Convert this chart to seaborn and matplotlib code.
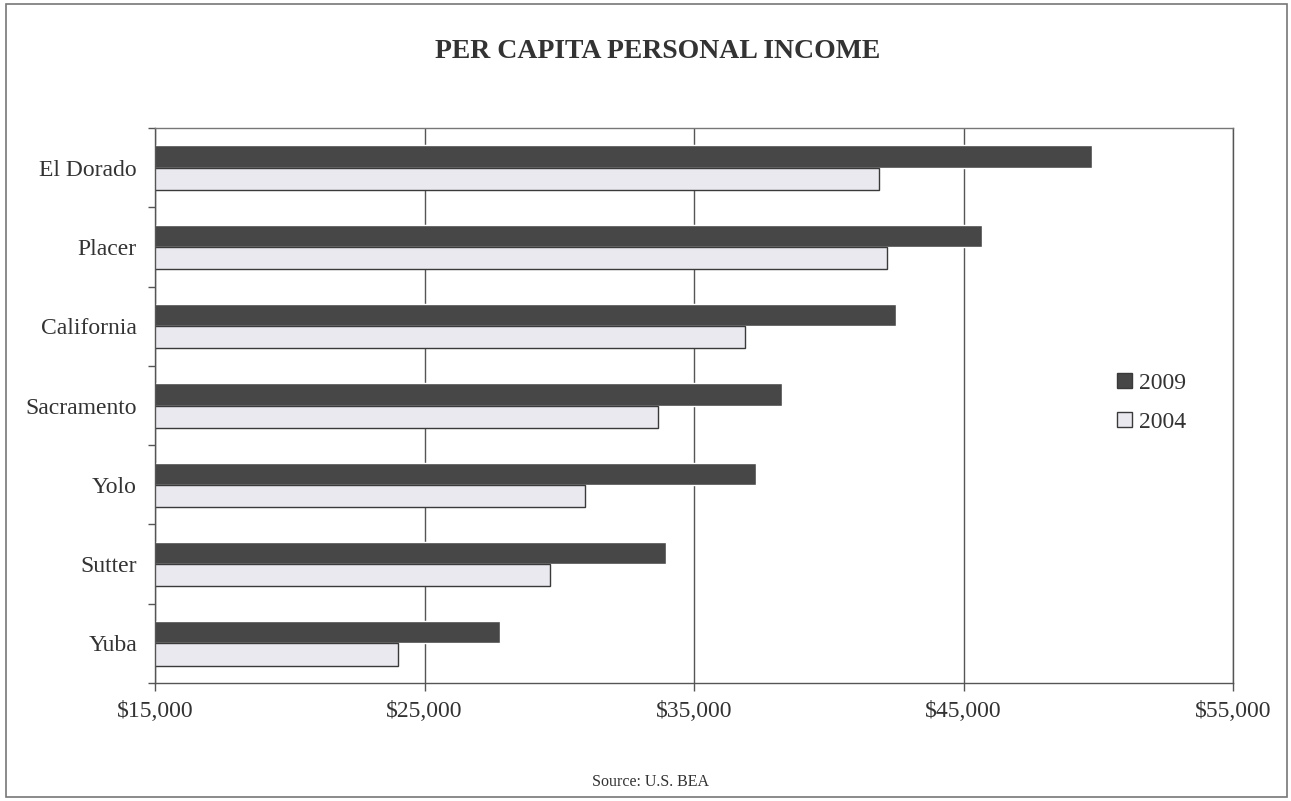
import pandas as pd
import seaborn as sns
import matplotlib.pyplot as plt
from matplotlib.patches import Rectangle
from matplotlib.ticker import FuncFormatter, FixedLocator

counties = ["El Dorado", "Placer", "California", "Sacramento", "Yolo", "Sutter", "Yuba"]
income_2009 = [49750, 45700, 42480, 38260, 37300, 33950, 27800]
income_2004 = [41850, 42150, 36900, 33650, 30950, 29650, 24020]
years = ["2009", "2004"]
xticks = [15000, 25000, 35000, 45000, 55000]

df = pd.DataFrame({
    "county": counties * 2,
    "income": income_2009 + income_2004,
    "year": [years[0]] * len(counties) + [years[1]] * len(counties),
})

sns.set_style("white")
plt.rcParams["font.family"] = ["Liberation Serif", "DejaVu Serif"]

fig = plt.figure(figsize=(12.91, 8.01), dpi=100)
ax = fig.add_axes([155 / 1291, 1 - 683 / 801, (1233 - 155) / 1291, (683 - 128) / 801])

sns.barplot(data=df, y="county", x="income", hue="year", order=counties,
            hue_order=years, palette={"2009": "#474747", "2004": "#e8e8f0"},
            width=0.56, orient="h", ax=ax, legend=True)

for bar in ax.patches[len(counties):2 * len(counties)]:
    bar.set_edgecolor("#3a3a3a")
    bar.set_linewidth(1.0)

ax.set_xlim(15000, 55000)
ax.set_ylim(len(counties) - 0.5, -0.5)
ax.set_xticks(xticks)
ax.xaxis.set_major_formatter(FuncFormatter(lambda v, p: f"${v:,.0f}"))
ax.grid(axis="x", color="#555555", linewidth=1.0)
ax.set_axisbelow(True)
ax.set_xlabel("")
ax.set_ylabel("")

ax.tick_params(axis="x", length=6, width=1, color="#555555", direction="out",
               labelsize=17, labelcolor="#333333", pad=7, bottom=True)
ax.tick_params(axis="y", which="major", length=0, labelsize=17,
               labelcolor="#333333", pad=13)
ax.yaxis.set_minor_locator(FixedLocator([i + 0.5 for i in range(-1, len(counties))]))
ax.tick_params(axis="y", which="minor", length=5, width=1, color="#555555",
               direction="out", left=True)

for side in ["top", "right", "left", "bottom"]:
    ax.spines[side].set_visible(True)
    ax.spines[side].set_color("#555555")
    ax.spines[side].set_linewidth(1.0)
ax.spines["top"].set_color("#777777")

handles, labels = ax.get_legend_handles_labels()
leg = ax.legend(handles, labels, loc="center left", bbox_to_anchor=(0.873, 0.505),
                frameon=False, fontsize=17, handlelength=0.6, handleheight=0.6,
                handletextpad=0.3, labelspacing=0.75, labelcolor="#333333")
for h in leg.legend_handles:
    h.set_edgecolor("#3a3a3a")
    h.set_linewidth(1.0)

fig.text(658 / 1291, 1 - 51 / 801, "PER CAPITA PERSONAL INCOME", ha="center",
         va="center", fontsize=20, fontweight="bold", color="#333333")
fig.text(650 / 1291, 1 - 782 / 801, "Source: U.S. BEA", ha="center",
         va="center", fontsize=11.5, color="#333333")

fig.patches.append(Rectangle((6 / 1291, 4 / 801), 1281 / 1291, 793 / 801,
                             transform=fig.transFigure, fill=False,
                             edgecolor="#777777", linewidth=1.2))

fig.savefig("out.png", dpi=100)
